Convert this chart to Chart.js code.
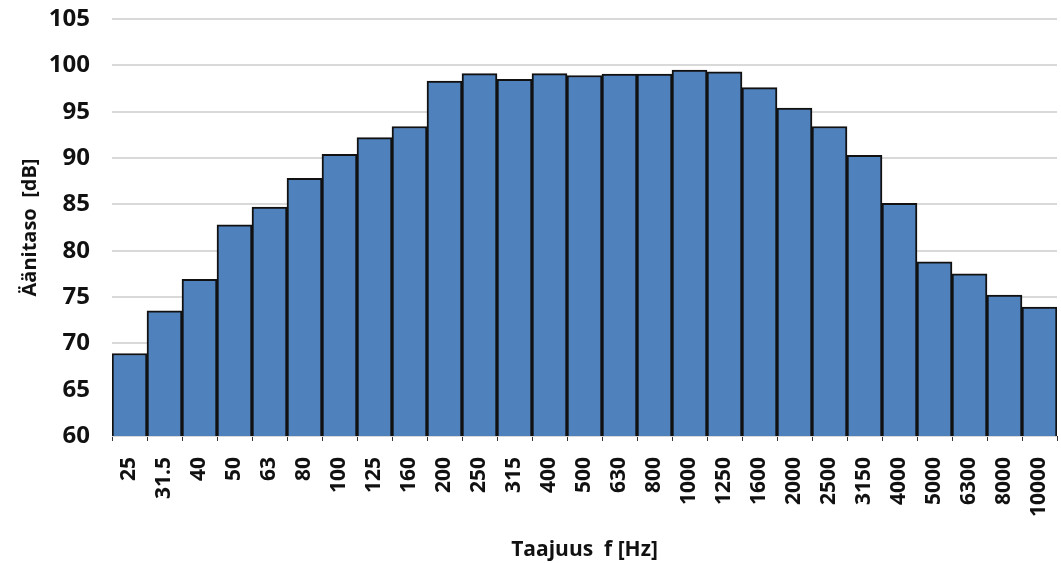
<!DOCTYPE html>
<html>
<head>
<meta charset="utf-8">
<script src="https://cdn.jsdelivr.net/npm/chart.js@4/dist/chart.umd.min.js"></script>
<style>
  html, body { margin: 0; padding: 0; background: #fff; }
  #wrap { width: 1061px; height: 563px; }
</style>
</head>
<body>
<div id="wrap"><canvas id="spectrum"></canvas></div>
<script>
// Terssikaistat ja äänitasot
const bands = ['25', '31.5', '40', '50', '63', '80', '100', '125', '160', '200', '250', '315',
  '400', '500', '630', '800', '1000', '1250', '1600', '2000', '2500', '3150', '4000',
  '5000', '6300', '8000', '10000'];
const levels = [68.9, 73.5, 76.9, 82.8, 84.7, 87.8, 90.4, 92.2, 93.4, 98.3, 99.1, 98.5,
  99.1, 98.9, 99.05, 99.05, 99.5, 99.3, 97.6, 95.4, 93.4, 90.3, 85.1,
  78.8, 77.5, 75.2, 73.9];
const yTicks = [60, 65, 70, 75, 80, 85, 90, 95, 100, 105];

const fontFamily = '"Open Sans", Roboto, sans-serif';

new Chart(document.getElementById('spectrum'), {
  type: 'bar',
  data: {
    labels: bands,
    datasets: [{
      data: levels,
      backgroundColor: '#4f81bd',
      borderColor: '#111111',
      borderWidth: 2,
      borderSkipped: 'bottom',
      barPercentage: 1,
      categoryPercentage: 1
    }]
  },
  options: {
    responsive: true,
    maintainAspectRatio: false,
    animation: false,
    layout: { padding: { top: 19, right: 4, left: 0, bottom: 0 } },
    plugins: {
      legend: { display: false },
      tooltip: { enabled: false }
    },
    scales: {
      x: {
        grid: {
          display: true,
          drawOnChartArea: false,
          offset: true,
          color: '#333333',
          tickLength: 5
        },
        border: { display: false },
        ticks: {
          minRotation: 90,
          maxRotation: 90,
          autoSkip: false,
          color: '#111111',
          padding: 16,
          font: { family: fontFamily, size: 21, weight: 'bold' }
        },
        title: {
          display: true,
          text: 'Taajuus  f [Hz]',
          color: '#111111',
          padding: { top: 4, bottom: 0 },
          font: { family: fontFamily, size: 21, weight: 'bold' }
        },
        afterFit: scale => {
          scale.height = 127;
          scale.paddingLeft = 0;
          scale.paddingRight = 0;
        }
      },
      y: {
        min: 60,
        max: 105,
        afterBuildTicks: scale => { scale.ticks = yTicks.map(v => ({ value: v })); },
        grid: {
          color: '#d9d9d9',
          lineWidth: 2,
          drawTicks: false
        },
        border: { display: false },
        ticks: {
          color: '#111111',
          padding: 22,
          font: { family: fontFamily, size: 24, weight: 'bold' }
        },
        title: {
          display: true,
          text: 'Äänitaso  [dB]',
          color: '#111111',
          padding: { top: 18, bottom: 0 },
          font: { family: fontFamily, size: 20, weight: 'bold' }
        },
        afterFit: scale => {
          scale.width = 112;
          scale.paddingTop = 0;
          scale.paddingBottom = 0;
        }
      }
    }
  }
});
</script>
</body>
</html>
